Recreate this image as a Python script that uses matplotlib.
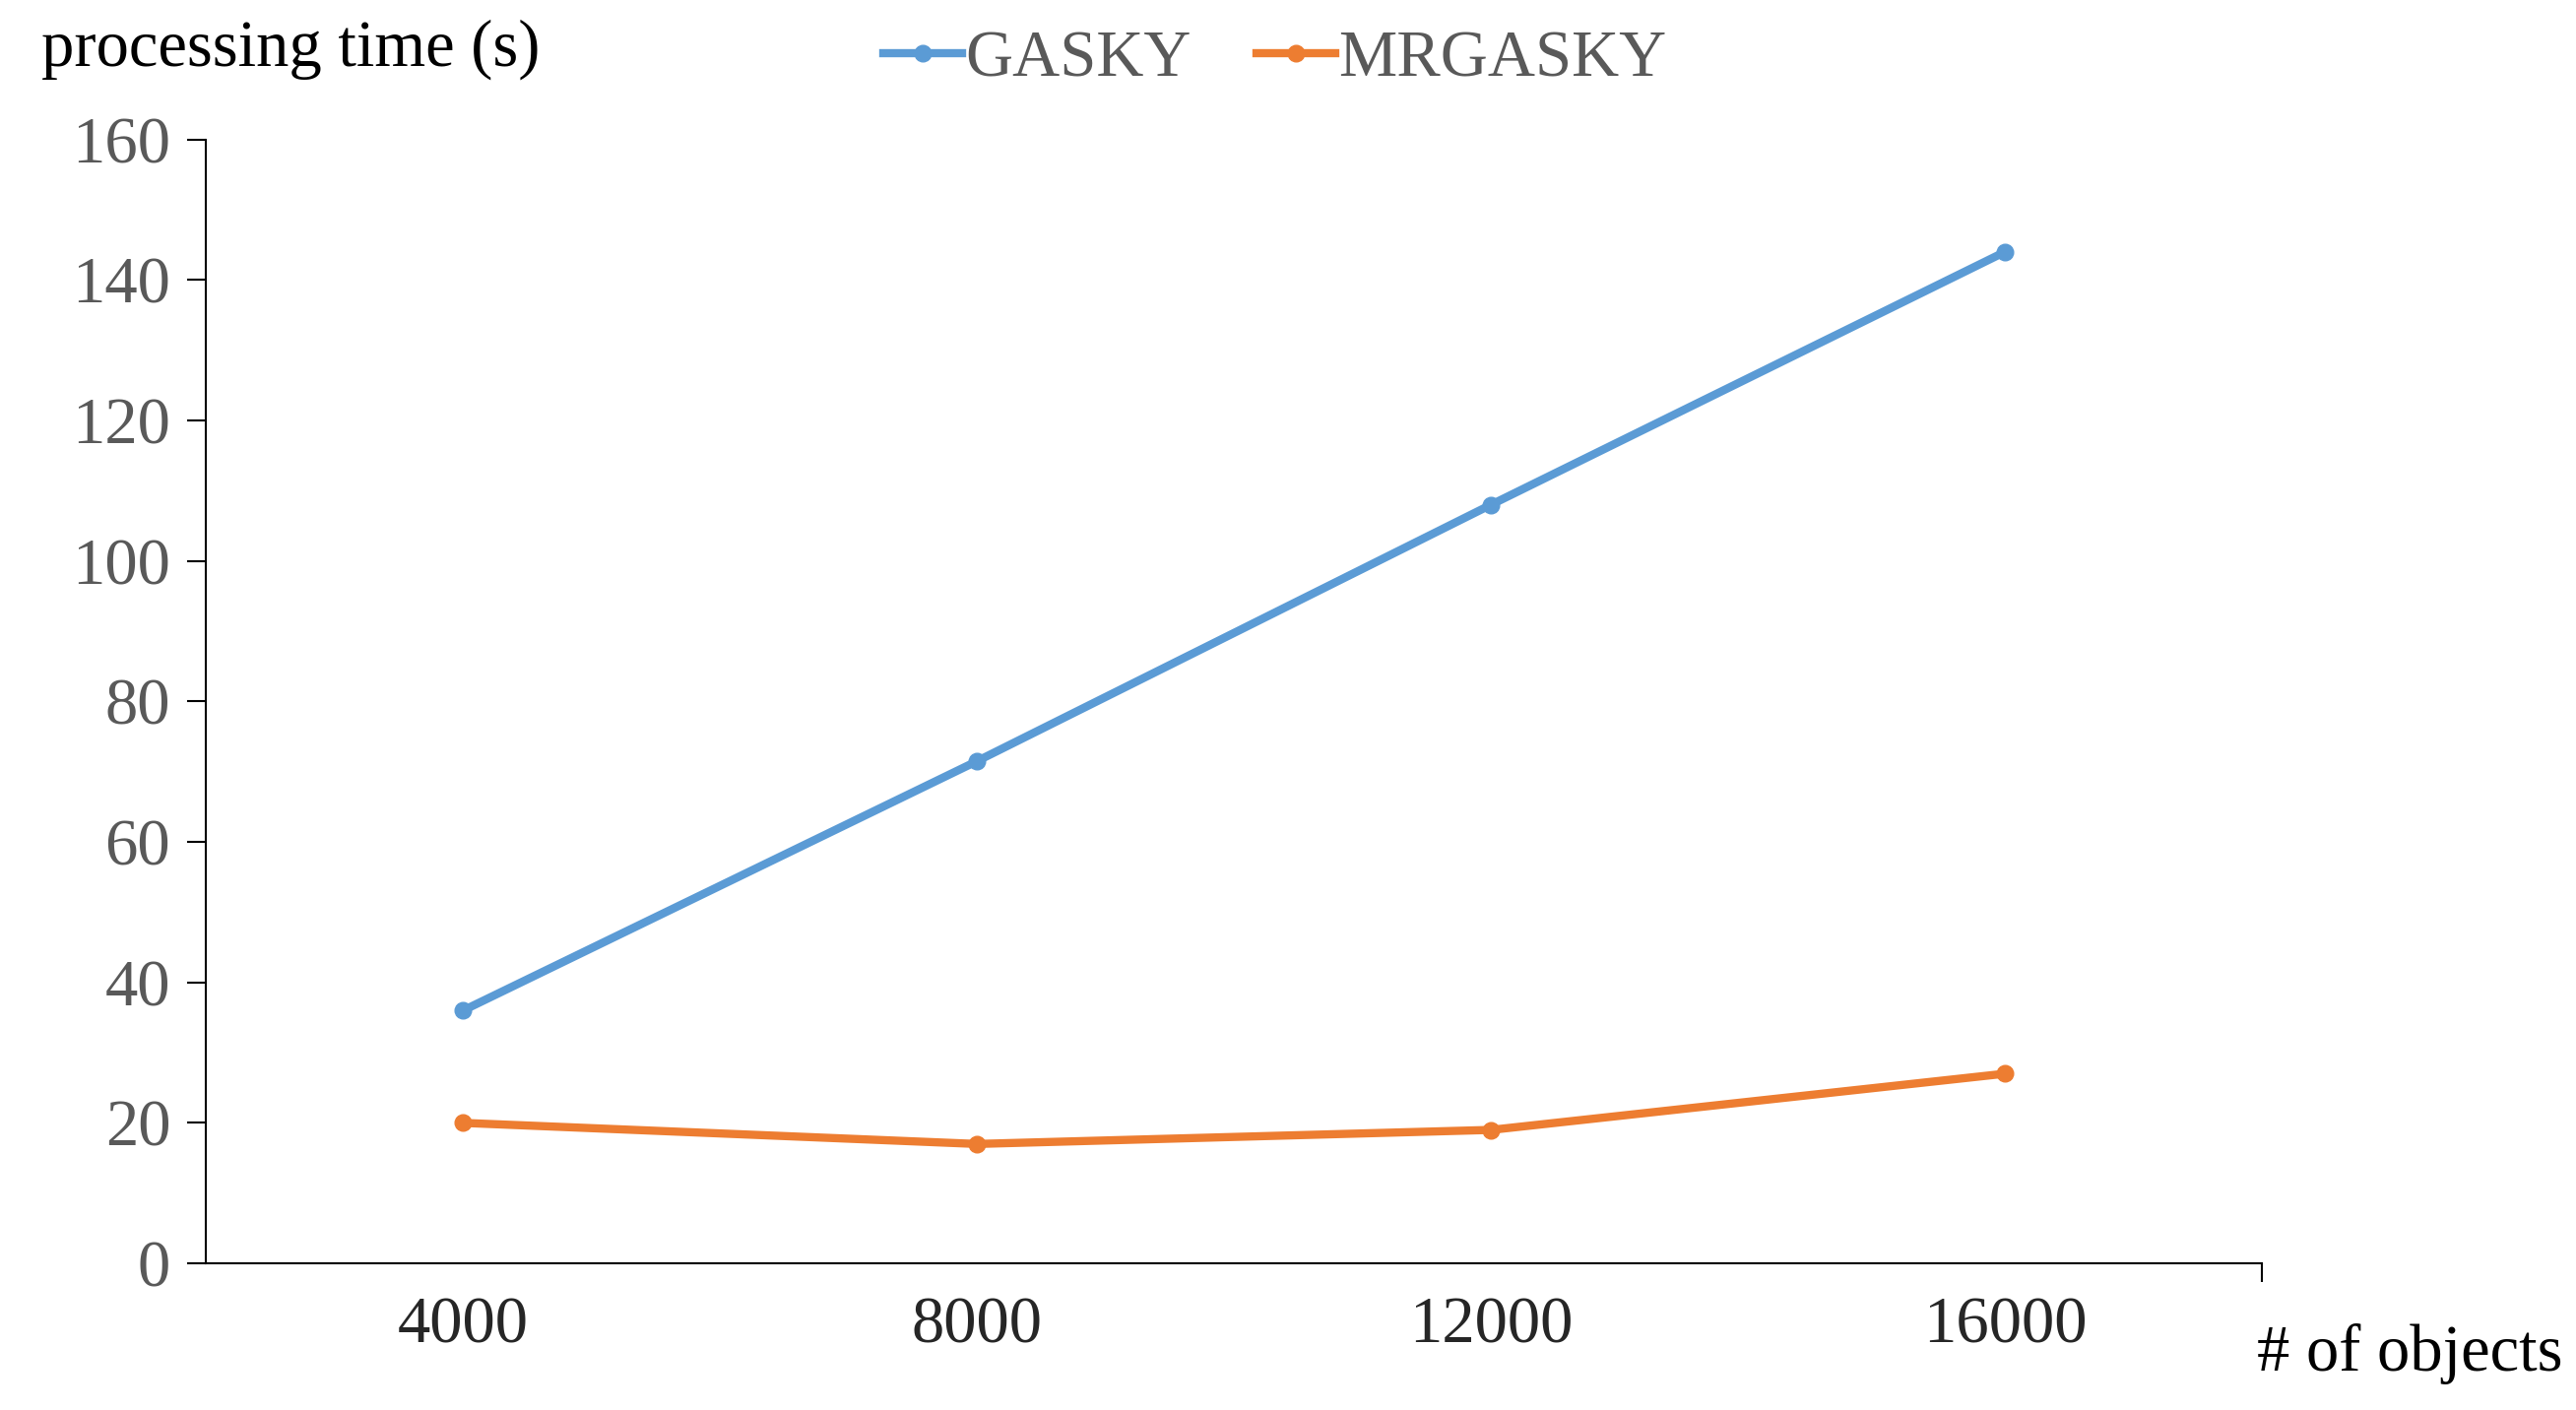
import matplotlib.pyplot as plt

objects = [4000, 8000, 12000, 16000]
gasky = [36, 71.5, 108, 144]
mrgasky = [20, 17, 19, 27]

plt.rcParams['font.family'] = ['Liberation Serif', 'DejaVu Serif']

fig = plt.figure(figsize=(26.16, 14.32), dpi=100)
ax = fig.add_axes([0.080, 0.104, 0.798, 0.797])

ax.plot(objects, gasky, color='#5B9BD5', lw=6, marker='o', ms=12, label='GASKY')
ax.plot(objects, mrgasky, color='#ED7D31', lw=6, marker='o', ms=12, label='MRGASKY')

ax.set_xlim(2000, 18000)
ax.set_ylim(0, 160)
ax.set_yticks(range(0, 161, 20))
ax.set_xticks(objects)
ax.set_xticks([18000], minor=True)
ax.tick_params(axis='x', which='major', length=0, pad=24, labelsize=48, labelcolor='#262626')
ax.tick_params(axis='x', which='minor', length=14, width=1.5, direction='out')
ax.tick_params(axis='y', length=14, width=1.5, direction='out', labelsize=48,
               labelcolor='#595959', pad=12)
for s in ['top', 'right']:
    ax.spines[s].set_visible(False)
for s in ['left', 'bottom']:
    ax.spines[s].set_linewidth(1.5)

fig.text(0.016, 0.965, 'processing time (s)', fontsize=48, ha='left', va='center')
fig.text(0.995, 0.04, '# of objects', fontsize=48, ha='right', va='center')

ax.legend(loc='upper center', bbox_to_anchor=(0.52, 1.15), ncol=2, frameon=False,
          fontsize=48, handlelength=1.2, handletextpad=0.05, columnspacing=1.0,
          labelcolor='#595959')

fig.savefig('out.png')
